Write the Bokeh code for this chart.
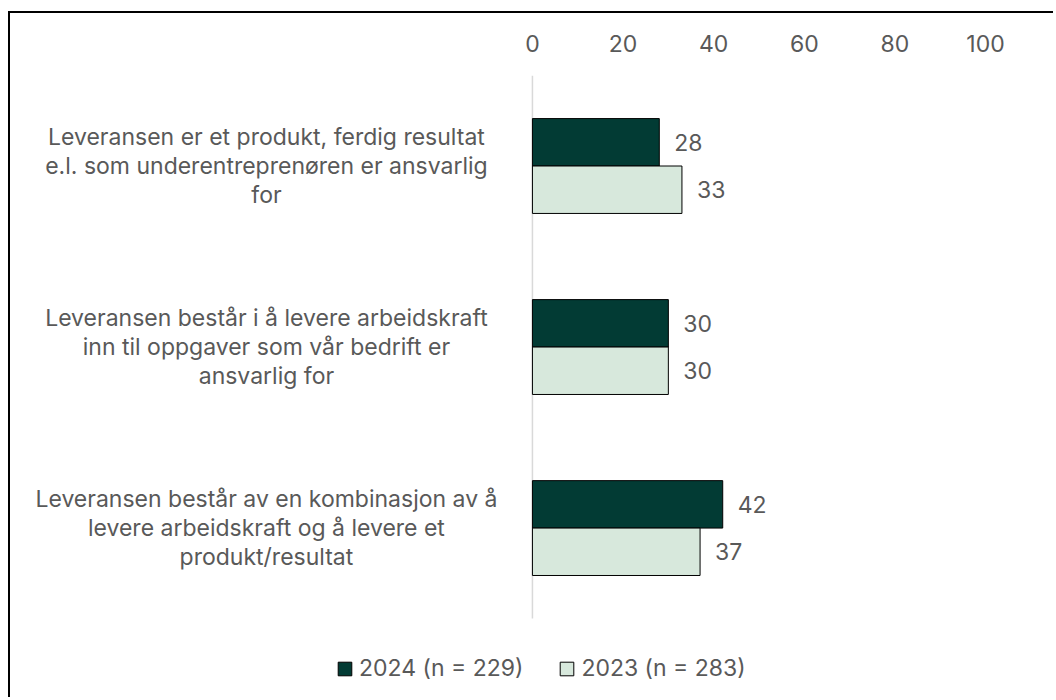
from bokeh.plotting import figure
from bokeh.models import (Range1d, Legend, LegendItem, ColumnDataSource, FixedTicker)
from bokeh.transform import dodge
from bokeh.core.properties import value
from bokeh.embed import file_html
from bokeh.resources import INLINE

categories = [
    "Leveransen er et produkt, ferdig resultat\ne.l. som underentreprenøren er ansvarlig\nfor",
    "Leveransen består i å levere arbeidskraft\ninn til oppgaver som vår bedrift er\nansvarlig for",
    "Leveransen består av en kombinasjon av å\nlevere arbeidskraft og å levere et\nprodukt/resultat",
]
series_names = ["2024 (n = 229)", "2023 (n = 283)"]
values_2024 = [28, 30, 42]
values_2023 = [33, 30, 37]
x_ticks = [0, 20, 40, 60, 80, 100]

FONT = "Inter"
FS = "23px"
TXT = "#595959"
DARK = "#023B34"
LIGHT = "#D7E8DC"

n = len(categories)
ypos = [n - 1 - i for i in range(n)]  # first category on top

src = ColumnDataSource(dict(
    cat=categories,
    y=ypos,
    v24=values_2024,
    v23=values_2023,
    l24=[str(v) for v in values_2024],
    l23=[str(v) for v in values_2023],
))

p = figure(
    width=1045, height=686,
    x_range=Range1d(-115.2, 100),
    y_range=Range1d(-0.947, n - 0.5),
    x_axis_location="above", y_axis_location=None,
    output_backend="svg", toolbar_location=None,
    min_border_left=0, min_border_right=70, min_border_top=62, min_border_bottom=0,
    styles={"border-left": "2px solid black", "border-top": "2px solid black",
            "border-right": "none", "border-bottom": "none",
            "margin-top": "11px", "margin-left": "8px"},
)
p.outline_line_color = None
p.xgrid.grid_line_color = None
p.ygrid.grid_line_color = None

xa = p.xaxis[0]
xa.ticker = FixedTicker(ticks=x_ticks)
xa.axis_line_color = None
xa.major_tick_line_color = None
xa.minor_tick_line_color = None
xa.major_label_text_font = FONT
xa.major_label_text_font_size = FS
xa.major_label_text_color = TXT
xa.major_label_standoff = 18

# vertical zero line spanning the category area
p.segment(x0=0, x1=0, y0=min(ypos) - 0.5, y1=max(ypos) + 0.5,
          line_color="#D9D9D9", line_width=1.5)

off = 0.131
h = 0.262
r24 = p.hbar(y=dodge("y", off), right="v24", left=0, height=h,
             fill_color=DARK, line_color="black", line_width=1, source=src)
r23 = p.hbar(y=dodge("y", -off), right="v23", left=0, height=h,
             fill_color=LIGHT, line_color="black", line_width=1, source=src)

for col, lab, o in (("v24", "l24", off), ("v23", "l23", -off)):
    p.text(x=col, y=dodge("y", o), text=lab, x_offset=15,
           text_align="left", text_baseline="middle", text_font=value(FONT),
           text_font_size=FS, text_color=TXT, source=src)

# category labels (centred multi-line text left of the bars)
p.text(x=0, y="y", text="cat", x_offset=-266, text_align="center",
       text_baseline="middle", text_font=value(FONT), text_font_size=FS,
       text_color=TXT, text_line_height=1.04, source=src)

legend = Legend(items=[LegendItem(label=series_names[0], renderers=[r24]),
                       LegendItem(label=series_names[1], renderers=[r23])],
                orientation="horizontal", location=(326, 17),
                label_text_font=FONT, label_text_font_size=FS, label_text_color=TXT,
                glyph_width=17, glyph_height=17, label_standoff=6, spacing=35,
                padding=0, margin=0, border_line_color=None, background_fill_alpha=0)
p.add_layout(legend, "center")

open("out.html", "w").write(file_html(p, INLINE))
